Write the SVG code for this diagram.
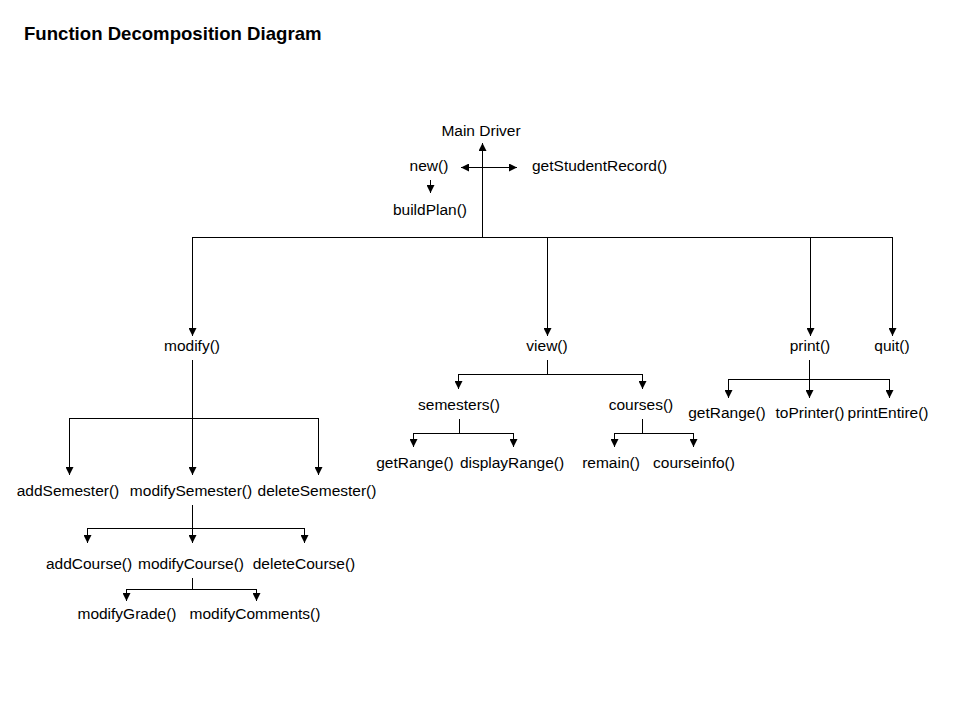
<svg xmlns="http://www.w3.org/2000/svg" width="960" height="720" viewBox="0 0 960 720">
<style>
text{font-family:"Liberation Sans",Arial,sans-serif;font-size:15.5px;fill:#000;text-anchor:middle}
.title{font-size:18.6px;font-weight:bold;text-anchor:start}
.l{text-anchor:start}
#connectors path{fill:none;stroke:#000;stroke-width:1}
</style>
<defs>
<marker id="ah" viewBox="0 0 10 10" refX="10" refY="5" markerWidth="9" markerHeight="8" markerUnits="userSpaceOnUse" orient="auto-start-reverse">
<path d="M0,0 L10,5 L0,10 z" fill="#000"/>
</marker>
</defs>
<rect width="960" height="720" fill="#fff"/>
<text class="title" x="24" y="40">Function Decomposition Diagram</text>
<g id="connectors">
<path d="M482.5,237 V143" marker-end="url(#ah)"/>
<path d="M461,167.5 H517" marker-start="url(#ah)" marker-end="url(#ah)"/>
<path d="M430.5,180 V193" marker-end="url(#ah)"/>
<path d="M192,237.5 H893"/>
<path d="M192.5,237 V336" marker-end="url(#ah)"/>
<path d="M547.5,237 V336" marker-end="url(#ah)"/>
<path d="M810.5,237 V336" marker-end="url(#ah)"/>
<path d="M892.5,237 V336" marker-end="url(#ah)"/>
<path d="M192.5,360 V475" marker-end="url(#ah)"/>
<path d="M69,418.5 H319"/>
<path d="M69.5,418 V475" marker-end="url(#ah)"/>
<path d="M318.5,418 V475" marker-end="url(#ah)"/>
<path d="M192.5,505 V543" marker-end="url(#ah)"/>
<path d="M87,528.5 H305"/>
<path d="M87.5,528 V543" marker-end="url(#ah)"/>
<path d="M304.5,528 V543" marker-end="url(#ah)"/>
<path d="M192.5,578 V589"/>
<path d="M126,589.5 H257"/>
<path d="M126.5,589 V601" marker-end="url(#ah)"/>
<path d="M256.5,589 V601" marker-end="url(#ah)"/>
<path d="M547.5,360 V374"/>
<path d="M458,374.5 H643"/>
<path d="M458.5,374 V389" marker-end="url(#ah)"/>
<path d="M642.5,374 V389" marker-end="url(#ah)"/>
<path d="M459.5,419 V433"/>
<path d="M413,433.5 H514"/>
<path d="M413.5,433 V447" marker-end="url(#ah)"/>
<path d="M513.5,433 V447" marker-end="url(#ah)"/>
<path d="M642.5,419 V433"/>
<path d="M614,433.5 H694"/>
<path d="M614.5,433 V447" marker-end="url(#ah)"/>
<path d="M693.5,433 V447" marker-end="url(#ah)"/>
<path d="M809.5,360 V379"/>
<path d="M728,379.5 H890"/>
<path d="M728.5,379 V398" marker-end="url(#ah)"/>
<path d="M809.5,379 V398" marker-end="url(#ah)"/>
<path d="M889.5,379 V398" marker-end="url(#ah)"/>
</g>
<g id="main"><text x="481" y="136">Main Driver</text></g>
<g id="new"><text x="429" y="171">new()</text></g>
<g id="getStudentRecord"><text class="l" x="532" y="171">getStudentRecord()</text></g>
<g id="buildPlan"><text x="430" y="215">buildPlan()</text></g>
<g id="modify"><text x="192" y="351">modify()</text></g>
<g id="view"><text x="547" y="351">view()</text></g>
<g id="print"><text x="810" y="351">print()</text></g>
<g id="quit"><text x="892" y="351">quit()</text></g>
<g id="addSemester"><text x="68" y="496">addSemester()</text></g>
<g id="modifySemester"><text x="191" y="496">modifySemester()</text></g>
<g id="deleteSemester"><text x="317" y="496">deleteSemester()</text></g>
<g id="addCourse"><text x="89" y="569">addCourse()</text></g>
<g id="modifyCourse"><text x="191" y="569">modifyCourse()</text></g>
<g id="deleteCourse"><text x="304" y="569">deleteCourse()</text></g>
<g id="modifyGrade"><text x="127" y="619">modifyGrade()</text></g>
<g id="modifyComments"><text x="255" y="619">modifyComments()</text></g>
<g id="semesters"><text x="459" y="410">semesters()</text></g>
<g id="courses"><text x="641" y="410">courses()</text></g>
<g id="getRangeView"><text x="415" y="468">getRange()</text></g>
<g id="displayRange"><text x="512" y="468">displayRange()</text></g>
<g id="remain"><text x="611" y="468">remain()</text></g>
<g id="courseinfo"><text x="694" y="468">courseinfo()</text></g>
<g id="getRangePrint"><text x="727" y="418">getRange()</text></g>
<g id="toPrinter"><text x="810" y="418">toPrinter()</text></g>
<g id="printEntire"><text x="888" y="418">printEntire()</text></g>
</svg>
